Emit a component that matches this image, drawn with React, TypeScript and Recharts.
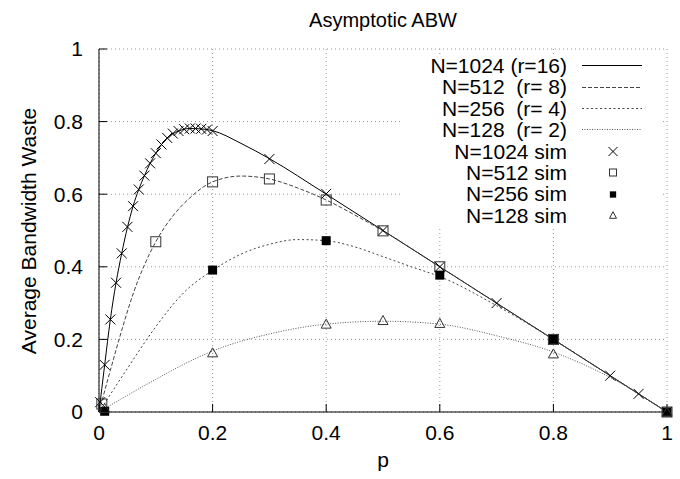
import React from 'react'
import { ComposedChart, Line, Scatter, XAxis, YAxis, CartesianGrid } from 'recharts'

const FONT = '"Liberation Sans", Arial, Helvetica, sans-serif'
const TICKS = [0, 0.2, 0.4, 0.6, 0.8, 1]

// analytic curves
const P_1024 = [0, 0.01, 0.02, 0.03, 0.04, 0.05, 0.06, 0.07, 0.08, 0.09, 0.1, 0.12, 0.14, 0.16, 0.18, 0.2, 0.25, 0.3, 0.4, 0.5, 0.6, 0.7, 0.8, 0.9, 1]
const V_1024 = [0, 0.13, 0.255, 0.356, 0.437, 0.508, 0.567, 0.613, 0.651, 0.685, 0.713, 0.755, 0.774, 0.781, 0.78, 0.775, 0.74, 0.698, 0.6, 0.5, 0.4, 0.3, 0.2, 0.1, 0]

const P_512 = [0, 0.02, 0.04, 0.06, 0.08, 0.1, 0.13, 0.16, 0.2, 0.25, 0.3, 0.35, 0.4, 0.45, 0.5, 0.6, 0.7, 0.8, 0.9, 1]
const V_512 = [0, 0.115, 0.225, 0.325, 0.405, 0.469, 0.54, 0.59, 0.634, 0.65, 0.642, 0.617, 0.584, 0.543, 0.499, 0.4, 0.3, 0.2, 0.1, 0]

const P_256 = [0, 0.05, 0.1, 0.15, 0.2, 0.25, 0.3, 0.35, 0.4, 0.45, 0.5, 0.55, 0.6, 0.7, 0.8, 0.9, 1]
const V_256 = [0, 0.12, 0.235, 0.33, 0.39, 0.435, 0.462, 0.475, 0.472, 0.455, 0.428, 0.4, 0.373, 0.293, 0.2, 0.1, 0]

const P_128 = [0, 0.05, 0.1, 0.15, 0.2, 0.3, 0.4, 0.5, 0.6, 0.7, 0.8, 0.9, 1]
const V_128 = [0, 0.046, 0.09, 0.132, 0.168, 0.215, 0.242, 0.25, 0.242, 0.21, 0.165, 0.095, 0]

// simulation points
const SP_1024 = [0.002, 0.01, 0.02, 0.03, 0.04, 0.05, 0.06, 0.07, 0.08, 0.09, 0.1, 0.11, 0.12, 0.13, 0.14, 0.15, 0.16, 0.17, 0.18, 0.19, 0.2, 0.3, 0.4, 0.5, 0.6, 0.7, 0.8, 0.9, 0.95, 1]
const SV_1024 = [0.027, 0.13, 0.255, 0.356, 0.437, 0.51, 0.567, 0.613, 0.651, 0.685, 0.713, 0.737, 0.755, 0.767, 0.774, 0.779, 0.781, 0.781, 0.78, 0.778, 0.774, 0.697, 0.601, 0.5, 0.4, 0.3, 0.2, 0.1, 0.05, 0]

const SP_512 = [0.005, 0.1, 0.2, 0.3, 0.4, 0.5, 0.6, 0.8, 1]
const SV_512 = [0.022, 0.469, 0.634, 0.642, 0.584, 0.499, 0.4, 0.2, 0]

const SP_256 = [0.01, 0.2, 0.4, 0.6, 0.8, 1]
const SV_256 = [0.002, 0.391, 0.472, 0.377, 0.2, 0]

const SP_128 = [0.01, 0.2, 0.4, 0.5, 0.6, 0.8, 1]
const SV_128 = [0.01, 0.163, 0.242, 0.252, 0.244, 0.16, 0]

const zip = (ps: number[], vs: number[]) => ps.map((p, i) => ({ p, v: vs[i] }))

const CURVES = [
  { key: 'c1024', label: 'N=1024 (r=16)', data: zip(P_1024, V_1024), color: '#000', dash: undefined },
  { key: 'c512', label: 'N=512  (r= 8)', data: zip(P_512, V_512), color: '#444', dash: '4 2' },
  { key: 'c256', label: 'N=256  (r= 4)', data: zip(P_256, V_256), color: '#444', dash: '2 2.5' },
  { key: 'c128', label: 'N=128  (r= 2)', data: zip(P_128, V_128), color: '#555', dash: '1 1.5' },
]

type Mark = 'cross' | 'square' | 'filled' | 'triangle'

const SIMS: { key: string; label: string; data: { p: number; v: number }[]; mark: Mark }[] = [
  { key: 's1024', label: 'N=1024 sim', data: zip(SP_1024, SV_1024), mark: 'cross' },
  { key: 's512', label: 'N=512 sim', data: zip(SP_512, SV_512), mark: 'square' },
  { key: 's256', label: 'N=256 sim', data: zip(SP_256, SV_256), mark: 'filled' },
  { key: 's128', label: 'N=128 sim', data: zip(SP_128, SV_128), mark: 'triangle' },
]

function Symbol({ mark, cx, cy, s = 1 }: { mark: Mark; cx: number; cy: number; s?: number }) {
  if (cx == null || cy == null) return null
  if (mark === 'cross') {
    const r = 5 * s
    return (
      <g stroke="#000" strokeWidth={1}>
        <line x1={cx - r} y1={cy - r} x2={cx + r} y2={cy + r} />
        <line x1={cx - r} y1={cy + r} x2={cx + r} y2={cy - r} />
      </g>
    )
  }
  if (mark === 'square') {
    const r = 5 * s
    return <rect x={cx - r} y={cy - r} width={2 * r} height={2 * r} fill="none" stroke="#333" strokeWidth={1} />
  }
  if (mark === 'filled') {
    const r = 4.5 * s
    return <rect x={cx - r} y={cy - r} width={2 * r} height={2 * r} fill="#000" />
  }
  const w = 5 * s
  const h = 4 * s
  return (
    <polygon
      points={`${cx - w},${cy + h} ${cx + w},${cy + h} ${cx},${cy - h - 1}`}
      fill="none"
      stroke="#333"
      strokeWidth={1}
    />
  )
}

function Legend() {
  return (
    <div
      style={{
        position: 'absolute', left: 402, top: 55, width: 258,
        background: '#fff', fontFamily: FONT, fontSize: 21, color: '#000',
      }}
    >
      {CURVES.map(c => (
        <div key={c.key} style={{ display: 'flex', alignItems: 'center', height: 21.4 }}>
          <span style={{ width: 165, textAlign: 'right', whiteSpace: 'pre', lineHeight: '21.4px' }}>{c.label}</span>
          <svg width={91} height={21}>
            <line x1={15} y1={10.5} x2={75} y2={10.5} stroke={c.color} strokeWidth={1} strokeDasharray={c.dash} />
          </svg>
        </div>
      ))}
      {SIMS.map(s => (
        <div key={s.key} style={{ display: 'flex', alignItems: 'center', height: 21.4 }}>
          <span style={{ width: 165, textAlign: 'right', whiteSpace: 'pre', lineHeight: '21.4px' }}>{s.label}</span>
          <svg width={91} height={21}>
            <Symbol mark={s.mark} cx={46} cy={10.5} s={s.mark === 'cross' ? 0.9 : 0.7} />
          </svg>
        </div>
      ))}
    </div>
  )
}

const tickStyle = { fill: '#000', fontSize: 21, fontFamily: FONT }

export default function App() {
  return (
    <div style={{ position: 'absolute', left: 0, top: 0, width: 680, height: 479, background: '#fff' }}>
      <ComposedChart width={680} height={479} margin={{ top: 49, right: 13, bottom: 0, left: 0 }}>
        <CartesianGrid stroke="#999" strokeDasharray="1 3" />
        <XAxis
          dataKey="p"
          type="number"
          domain={[0, 1]}
          ticks={TICKS}
          height={67}
          tickSize={-8}
          tickMargin={21}
          tick={tickStyle}
          axisLine={{ stroke: '#000' }}
          tickLine={{ stroke: '#000' }}
          label={() => (
            <text x={383} y={467} textAnchor="middle" fontSize={21} fontFamily={FONT} fill="#000">p</text>
          )}
        />
        <XAxis
          xAxisId="top"
          orientation="top"
          type="number"
          domain={[0, 1]}
          ticks={TICKS}
          height={0}
          tickSize={-8}
          tick={false}
          axisLine={{ stroke: '#000' }}
          tickLine={{ stroke: '#000' }}
        />
        <YAxis
          type="number"
          domain={[0, 1]}
          ticks={TICKS}
          width={99}
          tickSize={-8}
          tickMargin={24}
          tick={tickStyle}
          axisLine={{ stroke: '#000' }}
          tickLine={{ stroke: '#000' }}
          label={() => (
            <text
              transform="translate(36, 231) rotate(-90)"
              textAnchor="middle"
              fontSize={21}
              fontFamily={FONT}
              fill="#000"
            >
              Average Bandwidth Waste
            </text>
          )}
        />
        <YAxis
          yAxisId="right"
          orientation="right"
          type="number"
          domain={[0, 1]}
          ticks={TICKS}
          width={0}
          tickSize={-8}
          tick={false}
          axisLine={{ stroke: '#000' }}
          tickLine={{ stroke: '#000' }}
        />
        {CURVES.map(c => (
          <Line
            key={c.key}
            data={c.data}
            dataKey="v"
            type="monotone"
            stroke={c.color}
            strokeWidth={1}
            strokeDasharray={c.dash}
            dot={false}
            activeDot={false}
            isAnimationActive={false}
          />
        ))}
        {SIMS.map(s => (
          <Scatter
            key={s.key}
            data={s.data}
            dataKey="v"
            isAnimationActive={false}
            shape={(props: any) => <Symbol mark={s.mark} cx={props.cx} cy={props.cy} />}
          />
        ))}
      </ComposedChart>
      <div
        style={{
          position: 'absolute', left: 0, top: 9, width: 766, textAlign: 'center',
          fontFamily: FONT, fontSize: 20, color: '#000', lineHeight: '22px',
        }}
      >
        Asymptotic ABW
      </div>
      <Legend />
    </div>
  )
}
